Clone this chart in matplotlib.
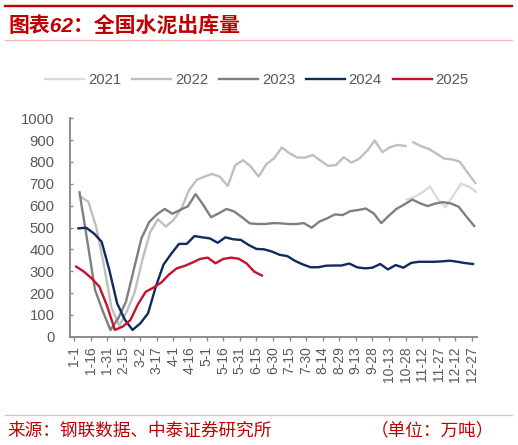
import numpy as np
import pandas as pd
import matplotlib
matplotlib.use('Agg')
import matplotlib.pyplot as plt
from matplotlib.lines import Line2D

plt.rcParams['font.family'] = ['Liberation Sans', 'Noto Sans CJK SC']

# -----------------------------
# Data: weekly national cement shipments (10k tonnes)
# -----------------------------
years = ['2021', '2022', '2023', '2024', '2025']
first_week = {'2021': '2021-10-29', '2022': '2022-01-07', '2023': '2023-01-06',
              '2024': '2024-01-05', '2025': '2025-01-03'}

v2021 = [628, 640, 660, 688, 630, 593, 645, 700, 688, 662]
v2022 = [641, 618, 504, 330, 132, 50, 118, 205, 355, 480,
         538, 504, 534, 585, 670, 718, 733, 745, 733, 690,
         786, 808, 779, 733, 790, 817, 866, 840, 820, 820,
         832, 806, 782, 786, 822, 797, 815, 850, 898, 845,
         868, 878, 873, 890, 872, 860, 838, 815, 812, 801,
         752, 704]
v2023 = [661, 440, 215, 118, 30, 84, 160, 305, 450, 525,
         560, 585, 563, 580, 597, 653, 603, 547, 565, 585,
         573, 547, 519, 516, 516, 520, 519, 516, 516, 520,
         499, 527, 542, 560, 557, 575, 580, 587, 565, 520,
         555, 586, 606, 628, 611, 598, 610, 616, 610, 595,
         550, 507]
v2024 = [496, 499, 473, 435, 305, 153, 78, 31, 61, 107,
         229, 330, 380, 425, 425, 461, 455, 450, 430, 455,
         446, 443, 420, 402, 400, 390, 375, 369, 347, 331,
         318, 318, 325, 326, 326, 335, 318, 313, 316, 333,
         308, 328, 316, 338, 343, 343, 343, 345, 348, 343,
         337, 333]
v2025 = [321, 298, 267, 229, 140, 31, 46, 76, 150, 206,
         225, 248, 285, 313, 324, 339, 356, 362, 336, 356,
         362, 357, 336, 298, 280]
values = {'2021': v2021, '2022': v2022, '2023': v2023, '2024': v2024, '2025': v2025}
gap_2022 = 42  # 2022 line breaks after this week

colors = {'2021': '#dadada', '2022': '#bfbfbf', '2023': '#7f7f7f',
          '2024': '#0e2b5c', '2025': '#c8102e'}

tick_days = np.arange(0, 361, 15)
tick_dates = pd.Timestamp('2025-01-01') + pd.to_timedelta(tick_days, unit='D')
tick_labels = [f'{d.month}-{d.day}' for d in tick_dates]

# -----------------------------
# Figure
# -----------------------------
W, H = 518, 445
fig = plt.figure(figsize=(W / 100, H / 100), dpi=100)
ax = fig.add_axes([70 / W, 1 - 336.7 / H, (476.7 - 70) / W, (336.7 - 118.3) / H])

for y in years:
    v = np.array(values[y], dtype=float)
    days = pd.date_range(first_week[y], periods=len(v), freq='7D').dayofyear - 1
    if y == '2022':
        ax.plot(days[:gap_2022 + 1], v[:gap_2022 + 1], color=colors[y], lw=1.7, label=y)
        ax.plot(days[gap_2022 + 1:], v[gap_2022 + 1:], color=colors[y], lw=1.7)
    else:
        ax.plot(days, v, color=colors[y], lw=1.7, label=y)

ax.set_xlim(-3.6, 364.3)
ax.set_ylim(0, 1000)
ax.set_yticks(np.arange(0, 1001, 100))
ax.set_xticks(tick_days)
ax.set_xticklabels(tick_labels, rotation=90)

for s in ['top', 'right']:
    ax.spines[s].set_visible(False)
for s in ['left', 'bottom']:
    ax.spines[s].set_color('#8c8c8c')
    ax.spines[s].set_linewidth(1.4)
ax.tick_params(axis='y', direction='in', length=2.5, width=1, color='#8c8c8c',
               labelsize=10.7, labelcolor='#595959', pad=11)
ax.tick_params(axis='x', direction='out', length=3, width=1, color='#8c8c8c',
               labelsize=10, labelcolor='#595959', pad=4)

fig.legend(loc='center', bbox_to_anchor=(257 / W, 1 - 80 / H), ncol=5, frameon=False,
           fontsize=10.7, handlelength=2.6, handletextpad=0.27, columnspacing=0.75,
           labelcolor='#595959')

# header / footer
fig.add_artist(Line2D([5 / W, 512 / W], [1 - 6 / H] * 2, color='#c00000', lw=1.7))
fig.add_artist(Line2D([5 / W, 512 / W], [1 - 40 / H] * 2, color='#f2b3b3', lw=0.9))
fig.add_artist(Line2D([5 / W, 512 / W], [1 - 415 / H] * 2, color='#f2b3b3', lw=0.9))
fig.text(8 / W, 1 - 26 / H, '图表62：全国水泥出库量', color='#c00000', fontsize=15,
         fontweight='bold', fontstyle='italic', va='center', ha='left')
fig.text(7 / W, 1 - 431 / H, '来源：钢联数据、中泰证券研究所', color='#c00000',
         fontsize=12.7, va='center', ha='left')
fig.text(494 / W, 1 - 431 / H, '（单位：万吨）', color='#c00000',
         fontsize=12.7, va='center', ha='right')

fig.savefig('out.png', dpi=100, facecolor='white')
